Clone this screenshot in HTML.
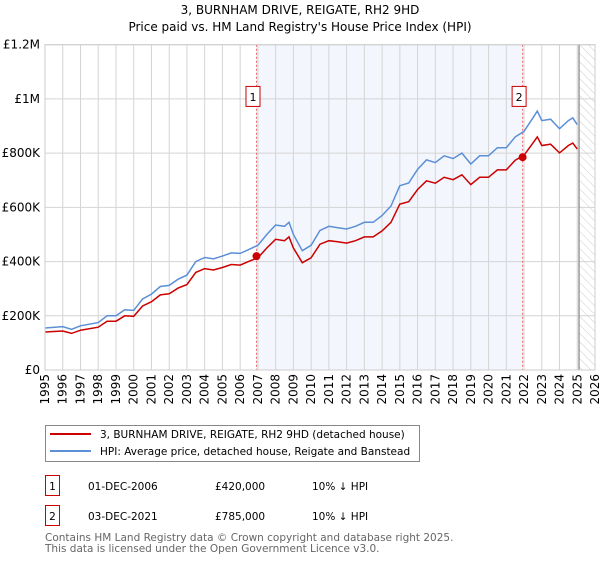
<!DOCTYPE html>
<html><head><meta charset="utf-8">
<style>
body{margin:0;background:#fff;width:600px;height:560px;overflow:hidden;font-family:"DejaVu Sans","Liberation Sans",sans-serif;}
svg text{font-family:"DejaVu Sans","Liberation Sans",sans-serif;}
</style></head>
<body>
<svg id="chart" width="600" height="560" xmlns="http://www.w3.org/2000/svg">
<text x="300" y="14" text-anchor="middle" font-size="12">3, BURNHAM DRIVE, REIGATE, RH2 9HD</text>
<text x="300" y="31" text-anchor="middle" font-size="12">Price paid vs. HM Land Registry's House Price Index (HPI)</text>
<g id="plot"></g>
<g>
<rect x="45.5" y="425.5" width="374" height="36" fill="#fff" stroke="#888"/>
<line x1="50" y1="434" x2="91" y2="434" stroke="#cc0000" stroke-width="2"/>
<text x="100" y="438" font-size="10.5">3, BURNHAM DRIVE, REIGATE, RH2 9HD (detached house)</text>
<line x1="50" y1="451" x2="91" y2="451" stroke="#5b8fd6" stroke-width="2"/>
<text x="100" y="455" font-size="10.5">HPI: Average price, detached house, Reigate and Banstead</text>
</g>
<g>
<rect x="45.5" y="475.5" width="14" height="20" fill="#fff" stroke="#cc0000"/>
<text x="52.5" y="490" text-anchor="middle" font-size="10.5">1</text>
<text x="88" y="490" font-size="10.5">01-DEC-2006</text>
<text x="215" y="490" font-size="10.5">£420,000</text>
<text x="312" y="490" font-size="10.5">10% ↓ HPI</text>
</g>
<g>
<rect x="45.5" y="505.5" width="14" height="20" fill="#fff" stroke="#cc0000"/>
<text x="52.5" y="520" text-anchor="middle" font-size="10.5">2</text>
<text x="88" y="520" font-size="10.5">03-DEC-2021</text>
<text x="215" y="520" font-size="10.5">£785,000</text>
<text x="312" y="520" font-size="10.5">10% ↓ HPI</text>
</g>
<text x="45" y="541" font-size="10.5" fill="#666">Contains HM Land Registry data © Crown copyright and database right 2025.</text>
<text x="45" y="552" font-size="10.5" fill="#666">This data is licensed under the Open Government Licence v3.0.</text>
</svg>
<script>
const years=[1995,1996,1996.5,1997,1998,1998.5,1999,1999.5,2000,2000.5,2001,2001.5,2002,2002.5,2003,2003.5,2004,2004.5,2005,2005.5,2006,2006.5,2007,2007.5,2008,2008.5,2008.75,2009,2009.5,2010,2010.5,2011,2011.5,2012,2012.5,2013,2013.5,2014,2014.5,2015,2015.5,2016,2016.5,2017,2017.5,2018,2018.5,2019,2019.5,2020,2020.5,2021,2021.5,2022,2022.5,2022.75,2023,2023.5,2024,2024.5,2024.75,2025];
const hpi=[155,160,150,163,175,200,200,222,220,262,280,308,312,335,350,400,415,410,420,432,430,445,460,500,535,530,545,500,440,460,515,530,525,520,530,545,545,570,605,680,690,740,775,765,790,780,800,760,790,790,820,820,860,880,930,955,920,925,890,920,930,905];
const paid=[140,144,135,147,158,180,180,200,198,236,252,277,281,302,315,360,374,369,378,389,387,401,414,450,482,477,491,450,396,414,464,477,473,468,477,491,491,513,545,612,621,666,698,689,711,702,720,684,711,711,738,738,774,792,837,860,828,833,801,828,837,815];
const saleYears=[2006.92,2021.92];
const salePrices=[420,785];
const yTicks=[0,200,400,600,800,1000,1200];
const yTickLabels=["£0","£200K","£400K","£600K","£800K","£1M","£1.2M"];
const xTicks=[1995,1996,1997,1998,1999,2000,2001,2002,2003,2004,2005,2006,2007,2008,2009,2010,2011,2012,2013,2014,2015,2016,2017,2018,2019,2020,2021,2022,2023,2024,2025,2026];
const dataEnd=2025.1;

const L=45,R=595,T=44.7,B=370;
const X=y=>L+(y-1995)/(2026-1995)*(R-L);
const Y=v=>B-v/1200*(B-T);
const NS="http://www.w3.org/2000/svg";
const g=document.getElementById('plot');
function mk(tag,attrs,parent){const e=document.createElementNS(NS,tag);for(const k in attrs)e.setAttribute(k,attrs[k]);(parent||g).appendChild(e);return e;}

const defs=mk('defs',{});
const pat=mk('pattern',{id:'hatch',width:6,height:6,patternUnits:'userSpaceOnUse',patternTransform:'rotate(-45)'},defs);
mk('line',{x1:0,y1:0,x2:0,y2:6,stroke:'#ccc','stroke-width':1},pat);

let sh=mk('rect',{x:X(saleYears[0]),y:T,width:X(saleYears[1])-X(saleYears[0]),height:B-T,fill:'#eef2fc',opacity:0.7});


let hr=mk('rect',{x:X(dataEnd),y:T,width:R-X(dataEnd),height:B-T,fill:'url(#hatch)'});



yTicks.forEach((v,i)=>{
  const l=mk('line',{x1:L,x2:R,y1:Y(v),y2:Y(v),stroke:'#d4d4d4','stroke-width':1});
  
  
  const t=mk('text',{x:L-5,y:Y(v)+4,'text-anchor':'end','font-size':12});
  t.textContent=yTickLabels[i];
  
  
});
xTicks.forEach(yr=>{
  const l=mk('line',{x1:X(yr),x2:X(yr),y1:T,y2:B,stroke:'#d4d4d4','stroke-width':1});
  
  
  const t=mk('text',{x:X(yr)+4,y:B+4,'text-anchor':'end','font-size':12,transform:`rotate(-90 ${X(yr)+4} ${B+4})`});
  t.textContent=yr;
  
  
});
let dl=mk('line',{x1:X(dataEnd),x2:X(dataEnd),y1:T,y2:B,stroke:'#999','stroke-width':1.5});



saleYears.forEach((sy,i)=>{
  const l=mk('line',{x1:X(sy),x2:X(sy),y1:T,y2:B,stroke:'#e66','stroke-width':1,'stroke-dasharray':'2,2'});
  
  
  const r=mk('rect',{x:X(sy)-10.5,y:Y(1000)-12.5,width:14,height:20,fill:'#fff',stroke:'#cc0000'});
  
  
  const t=mk('text',{x:X(sy)-3.5,y:Y(1000)+2,'text-anchor':'middle','font-size':11});
  t.textContent=String(i+1);
  
  
});

const pts=a=>years.map((y,i)=>X(y).toFixed(1)+','+Y(a[i]).toFixed(1)).join(' ');
let hl=mk('polyline',{points:pts(hpi),fill:'none',stroke:'#5b8fd6','stroke-width':1.5});


let pl=mk('polyline',{points:pts(paid),fill:'none',stroke:'#cc0000','stroke-width':1.5});


saleYears.forEach((sy,i)=>{
  const c=mk('circle',{cx:X(sy),cy:Y(salePrices[i]),r:4,fill:'#cc0000'});
  
  
});
let fr=mk('rect',{x:L,y:T,width:R-L,height:B-T,fill:'none',stroke:'#ccc'});


</script>
</body></html>
